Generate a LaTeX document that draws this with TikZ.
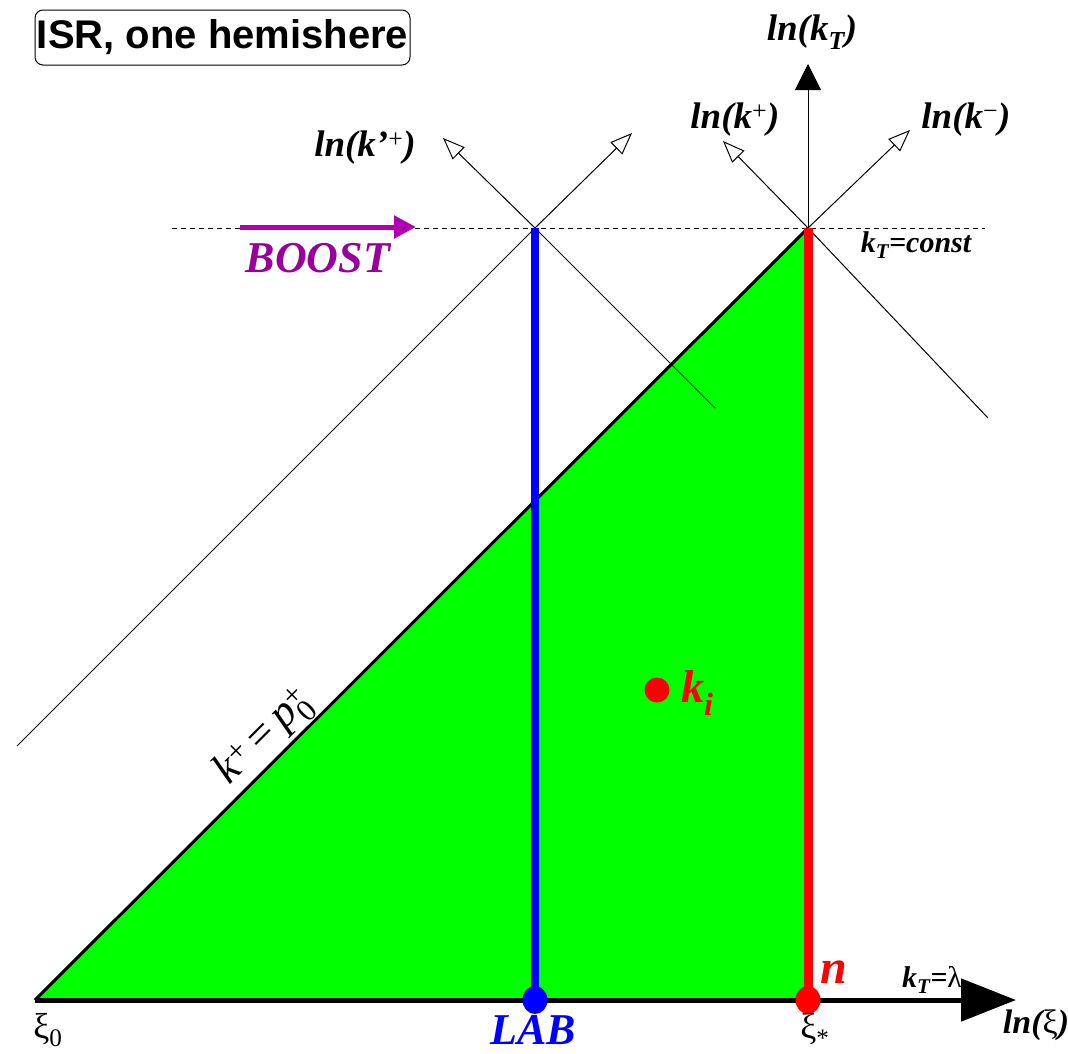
\documentclass[tikz,border=0pt]{standalone}
\usepackage{fontspec}
\setmainfont{Liberation Serif}
\newfontfamily\arialf{Liberation Sans}
\usetikzlibrary{arrows.meta}
\definecolor{kgreen}{RGB}{0,255,0}
\definecolor{kred}{RGB}{255,0,0}
\definecolor{kblue}{RGB}{0,0,255}
\definecolor{kmag}{RGB}{176,0,176}
\definecolor{kpurp}{RGB}{153,0,153}
\newcommand{\fsz}[1]{\fontsize{#1}{#1}\selectfont}
\begin{document}
\begin{tikzpicture}[x=1pt,y=-1pt,
  thinax/.style={line width=1pt},
  openhead/.style={-{Triangle[open,length=22pt,width=17pt,line width=1pt]}},
  lbl/.style={inner sep=0pt,font=\fsz{37}\bfseries\itshape},
  lblsmall/.style={inner sep=0pt,font=\fsz{30}\bfseries\itshape},
  greek/.style={inner sep=0pt,font=\fsz{36}}]
\useasboundingbox (0,0) rectangle (1068,1053);
% key points
\coordinate (O) at (35,1000);
\coordinate (A) at (808,228);
\coordinate (B) at (808,1000);
\coordinate (L) at (535,228);
\coordinate (Lb) at (535,1000);
\coordinate (Xend) at (1016,1000);
\coordinate (Ytip) at (808,64);
% green region
\fill[kgreen] (O) -- (A) -- (B) -- cycle;
% dashed kT=const line
\coordinate (D1) at (172,228);
\coordinate (D2) at (985,228);
\draw[line width=0.8pt,dash pattern=on 5pt off 4pt] (D1) -- (D2);
% right cross
\coordinate (RNW) at (723,141);
\coordinate (RNE) at (910,130);
\coordinate (RSE) at (988,418);
\draw[thinax,openhead] (A) -- (RNW);
\draw[thinax,openhead] (A) -- (RNE);
\draw[thinax] (A) -- (RSE);
% left cross
\coordinate (LNW) at (443,138);
\coordinate (LNE) at (632,133);
\coordinate (LSE) at (715,408);
\coordinate (LSW) at (17,746);
\draw[thinax,openhead] (L) -- (LNW);
\draw[thinax,openhead] (L) -- (LNE);
\draw[thinax] (L) -- (LSE);
\draw[thinax] (L) -- (LSW);
% vertical axis
\draw[thinax,-{Triangle[length=26pt,width=26pt]}] (B) -- (Ytip);
% hypotenuse
\draw[line width=3pt] (O) -- (A);
% baseline
\draw[line width=5pt,-{Triangle[length=55pt,width=42pt]}] (O) -- (Xend);
% blue and red lines
\draw[kblue,line width=8pt] (L) -- (Lb);
\draw[kred,line width=9pt] (A) -- (B);
% dots
\fill[kblue] (Lb) ellipse [x radius=12.5, y radius=14];
\fill[kred] (B) ellipse [x radius=12.5, y radius=14];
\node[circle,fill=kred,minimum size=25pt,inner sep=0pt] (ki) at (657,690) {};
% boost arrow
\coordinate (Bs) at (240,227);
\coordinate (Be) at (416,227);
\draw[kmag,line width=5pt,-{Triangle[length=22pt,width=22pt]}] (Bs) -- (Be);
% title
\node[draw,rounded corners=8pt,line width=1pt,minimum width=375pt,minimum height=55pt,inner sep=0pt,font=\arialf\bfseries\fsz{40}] (title) at (222.5,37.5) {ISR, one hemishere};
% labels
\node[lbl] (lkt) at (812,32) {ln(k\textsubscript{T})};
\node[lbl] (lkp) at (735,120) {ln(k\textsuperscript{\normalfont+})};
\node[lbl] (lkm) at (966,120) {ln(k\textsuperscript{\normalfont\textminus})};
\node[lbl] (lkpp) at (365,148) {ln(k\textquoteright\textsuperscript{\normalfont+})};
\node[lblsmall] (ktc) at (916,245) {k\textsubscript{T}=const};
\node[inner sep=0pt,font=\fsz{44}\bfseries\itshape,text=kpurp] (boost) at (318,258) {BOOST};
\node[inner sep=0pt,font=\fsz{44}\itshape,rotate=45] (kpp) at (264,738) {k\textsuperscript{\normalfont+}\,{\normalfont=}\,p\rlap{\textsuperscript{\normalfont+}}\textsubscript{\normalfont0}};
\node[inner sep=0pt,font=\fsz{46}\bfseries\itshape,text=kred,anchor=west] (kil) at (681,693) {k\textsubscript{i}};
\node[inner sep=0pt,font=\fsz{48}\bfseries\itshape,text=kred] (nl) at (834,972) {n};
\node[lblsmall] (ktl) at (932,980) {k\textsubscript{T}={\normalfont\upshape λ}};
\node[inner sep=0pt,font=\fsz{34}\bfseries\itshape] (lxi) at (1036,1025) {ln({\normalfont\upshape ξ})};
\node[greek] (xi0) at (48,1030) {ξ\textsubscript{0}};
\node[inner sep=0pt,font=\fsz{44}\bfseries\itshape,text=kblue] (lab) at (533,1030) {LAB};
\node[greek] (xis) at (815,1030) {ξ\textsubscript{*}};
\end{tikzpicture}
\end{document}
